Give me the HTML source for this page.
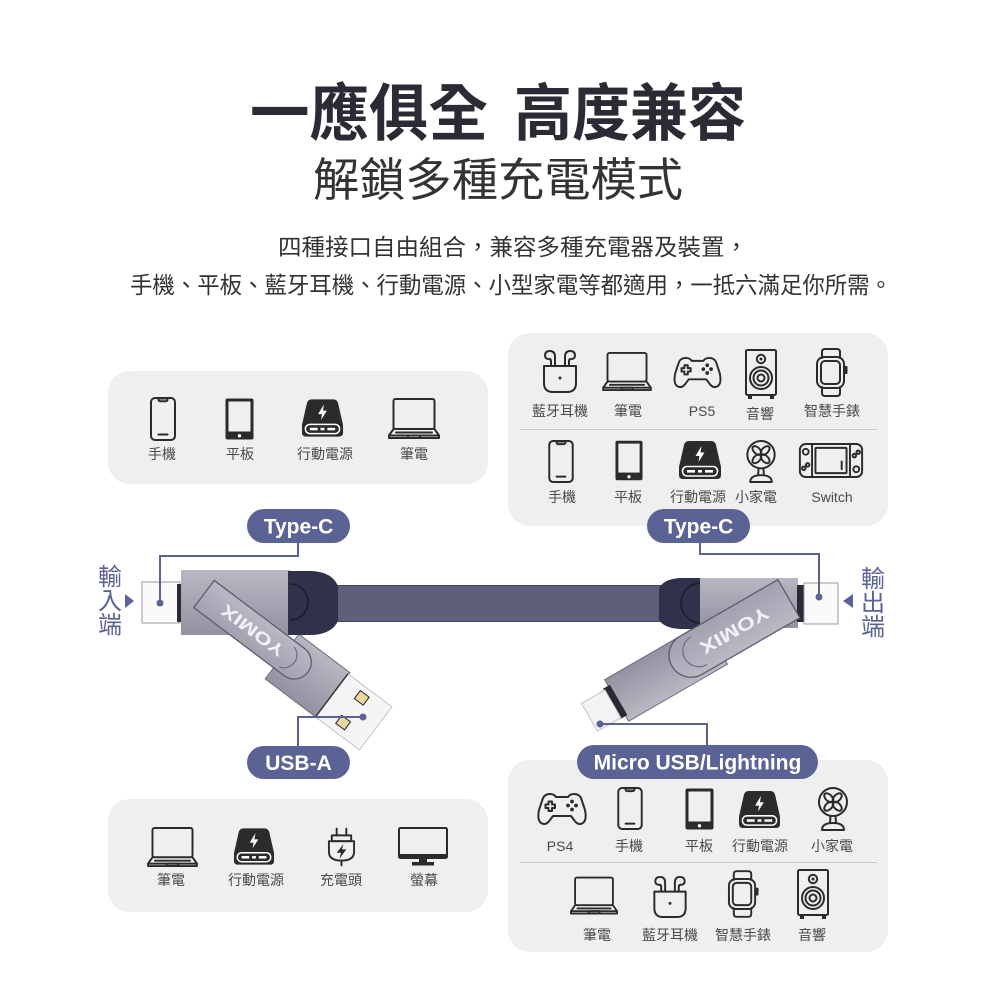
<!DOCTYPE html>
<html><head><meta charset="utf-8">
<style>
html,body{margin:0;padding:0;background:#fff;width:1000px;height:1000px;overflow:hidden;}
svg{display:block;}
.cjk{font-family:"Liberation Sans","Noto Sans CJK TC","Noto Sans CJK SC",sans-serif;}
.lbl{font-family:"Liberation Sans","Noto Sans CJK TC","Noto Sans CJK SC",sans-serif;font-size:14px;fill:#4a4a4a;text-anchor:middle;}
.pill{font-family:"Liberation Sans",sans-serif;font-weight:bold;font-size:21px;fill:#fff;text-anchor:middle;}
.s{fill:none;stroke:#2b2b2b;stroke-width:2;stroke-linejoin:round;stroke-linecap:round;}
.vt{font-family:"Liberation Sans","Noto Sans CJK TC","Noto Sans CJK SC",sans-serif;font-size:24px;fill:#5b6395;text-anchor:middle;}
</style></head><body>
<svg width="1000" height="1000" viewBox="0 0 1000 1000" xmlns="http://www.w3.org/2000/svg">
<defs>
<linearGradient id="metal" x1="0" y1="0" x2="0" y2="1">
<stop offset="0" stop-color="#b8b7c3"/><stop offset="1" stop-color="#9392a1"/></linearGradient>
<linearGradient id="lid" x1="0" y1="0" x2="0" y2="1">
<stop offset="0" stop-color="#b9b8c5"/><stop offset="1" stop-color="#a2a1af"/></linearGradient>
<symbol id="phone" viewBox="0 0 26 44"><rect class="s" x="1" y="1" width="24" height="42" rx="4"/><path class="s" d="M8.5 1.5h9v1.2a1.5 1.5 0 0 1-1.5 1.5h-6a1.5 1.5 0 0 1-1.5-1.5z" stroke-width="1.6"/><line class="s" x1="8.5" y1="37.5" x2="17.5" y2="37.5"/></symbol>
<symbol id="tablet" viewBox="0 0 29 42"><rect x="0.5" y="0.5" width="28" height="41" rx="2" fill="#2b2b2b"/><rect x="3.5" y="3.5" width="22" height="30" fill="#efefef"/><circle cx="14.5" cy="37.8" r="1.7" fill="#fff"/></symbol>
<symbol id="pb" viewBox="0 0 44 40"><path d="M6 5Q7 1 11 1H33Q37 1 38 5L43 27V35Q43 39 39 39H5Q1 39 1 35V27Z" fill="#2b2b2b"/><path d="M23.5 6L17.5 16H21.5L20.5 22L26.5 12.5H22.5Z" fill="#fff"/><rect x="4.5" y="26.5" width="35" height="9.5" rx="4.5" fill="none" stroke="#fff" stroke-width="1.6"/><rect x="9" y="30" width="8" height="2.6" fill="#fff"/><rect x="20" y="30" width="4" height="2.6" fill="#fff"/><rect x="27" y="30" width="8" height="2.6" fill="#fff"/></symbol>
<symbol id="laptop" viewBox="0 0 52 42"><rect class="s" x="5.5" y="1" width="41" height="30" rx="2"/><path class="s" d="M5.5 31L1 37.5V40H51V37.5L46.5 31"/><line class="s" x1="1" y1="37.5" x2="51" y2="37.5"/><line class="s" x1="8" y1="34.5" x2="44" y2="34.5" stroke-width="1.5"/><rect class="s" x="20" y="37.5" width="12" height="2.5" stroke-width="1.5"/></symbol>
<symbol id="buds" viewBox="0 0 36 44"><path class="s" d="M2 17H34V34Q34 43 25 43H11Q2 43 2 34Z"/><circle cx="18" cy="29" r="1.5" fill="#2b2b2b"/><path class="s" d="M13 17V8Q13 2 8 2Q3 2 3 6.5Q3 10 7 10Q9 10 9 12V17"/><path class="s" d="M23 17V8Q23 2 28 2Q33 2 33 6.5Q33 10 29 10Q27 10 27 12V17"/></symbol>
<symbol id="pad" viewBox="0 0 50 34"><path class="s" d="M13 2Q8 2 6 6L2 18Q0 28 4 31Q9 34 13 28L16 24H34L37 28Q41 34 46 31Q50 28 48 18L44 6Q42 2 37 2Q33 2 31 5H19Q17 2 13 2Z"/><path class="s" d="M11.5 9.5h3.5v3h3v3.5h-3v3h-3.5v-3h-3v-3.5h3z" stroke-width="1.8"/><circle cx="35" cy="9.5" r="1.9" fill="#2b2b2b"/><circle cx="31" cy="13.5" r="1.9" fill="#2b2b2b"/><circle cx="39" cy="13.5" r="1.9" fill="#2b2b2b"/><circle cx="35" cy="17.5" r="1.9" fill="#2b2b2b"/></symbol>
<symbol id="spk" viewBox="0 0 32 50"><rect class="s" x="1" y="1" width="30" height="45" rx="1.5"/><circle class="s" cx="16" cy="10" r="4.2" stroke-width="1.6"/><circle cx="16" cy="10" r="1.5" fill="#2b2b2b"/><circle class="s" cx="16" cy="29" r="11" stroke-width="1.8"/><circle class="s" cx="16" cy="29" r="7.5" stroke-width="1.6"/><circle class="s" cx="16" cy="29" r="3.5" stroke-width="1.6"/><rect x="3" y="46" width="4" height="4" fill="#2b2b2b"/><rect x="25" y="46" width="4" height="4" fill="#2b2b2b"/></symbol>
<symbol id="watch" viewBox="0 0 33 49"><path class="s" d="M7 10V4Q7 1 10 1H22Q25 1 25 4V10"/><path class="s" d="M7 39V45Q7 48 10 48H22Q25 48 25 45V39"/><rect class="s" x="2" y="9" width="27" height="31" rx="7" fill="#efefef"/><rect class="s" x="6" y="13" width="19" height="23" rx="4" stroke-width="1.6"/><rect x="29" y="18" width="3.5" height="8" rx="1" fill="#2b2b2b"/></symbol>
<symbol id="fan" viewBox="0 0 32 44"><circle class="s" cx="16" cy="15" r="14"/><g transform="translate(16 15)" class="s" stroke-width="1.6"><ellipse cx="6" cy="0" rx="5.5" ry="3.2" transform="rotate(45)"/><ellipse cx="6" cy="0" rx="5.5" ry="3.2" transform="rotate(135)"/><ellipse cx="6" cy="0" rx="5.5" ry="3.2" transform="rotate(225)"/><ellipse cx="6" cy="0" rx="5.5" ry="3.2" transform="rotate(315)"/></g><path class="s" d="M13.5 29L13 36M18.5 29L19 36"/><path class="s" d="M5 43Q5 36 16 36Q27 36 27 43Z"/></symbol>
<symbol id="sw" viewBox="0 0 66 36"><rect class="s" x="1" y="1" width="64" height="34" rx="6"/><line class="s" x1="13.5" y1="1" x2="13.5" y2="35"/><line class="s" x1="52.5" y1="1" x2="52.5" y2="35"/><rect class="s" x="17" y="5" width="32" height="26" rx="1"/><line class="s" x1="44" y1="19" x2="44" y2="27"/><circle class="s" cx="7" cy="9" r="3" stroke-width="1.6"/><circle class="s" cx="5" cy="26" r="1.8" stroke-width="1.4"/><circle class="s" cx="9" cy="22.5" r="1.8" stroke-width="1.4"/><circle class="s" cx="57" cy="13" r="1.8" stroke-width="1.4"/><circle class="s" cx="61" cy="9.5" r="1.8" stroke-width="1.4"/><circle class="s" cx="59" cy="27" r="3" stroke-width="1.6"/></symbol>
<symbol id="chg" viewBox="0 0 30 40"><path class="s" d="M10 1V8M20 1V8"/><rect class="s" x="5" y="8" width="20" height="6"/><path class="s" d="M2 14H28V25Q28 34 15 34Q2 34 2 25Z"/><path d="M17 17L10 26H14.5L13 32L20 22.5H15.5Z" fill="#2b2b2b"/><path class="s" d="M15 34V39"/></symbol>
<symbol id="mon" viewBox="0 0 50 40"><rect class="s" x="1" y="1" width="48" height="30" rx="1.5"/><rect x="1" y="27" width="48" height="4" fill="#2b2b2b"/><rect x="21" y="31" width="8" height="4" fill="#2b2b2b"/><rect x="14" y="35" width="22" height="3.5" fill="#2b2b2b"/></symbol>
</defs>

<!-- Title -->
<text class="cjk" x="250" y="135" font-size="62" font-weight="700" fill="#2a2b35" textLength="238" lengthAdjust="spacingAndGlyphs">一應俱全</text>
<text class="cjk" x="514" y="135" font-size="62" font-weight="700" fill="#2a2b35" textLength="232" lengthAdjust="spacingAndGlyphs">高度兼容</text>
<text class="cjk" x="313" y="196" font-size="46" fill="#333" textLength="370" lengthAdjust="spacingAndGlyphs">解鎖多種充電模式</text>
<text class="cjk" x="278" y="255" font-size="23" fill="#333" textLength="470" lengthAdjust="spacingAndGlyphs">四種接口自由組合，兼容多種充電器及裝置，</text>
<text class="cjk" x="130" y="293" font-size="23" fill="#333" textLength="762" lengthAdjust="spacingAndGlyphs">手機、平板、藍牙耳機、行動電源、小型家電等都適用，一抵六滿足你所需。</text>

<!-- Panels -->
<rect x="108" y="371" width="380" height="113" rx="22" fill="#efefef"/>
<rect x="508" y="333" width="380" height="193" rx="22" fill="#efefef"/>
<rect x="108" y="799" width="380" height="113" rx="22" fill="#efefef"/>
<rect x="508" y="760" width="380" height="192" rx="22" fill="#efefef"/>
<line x1="520" y1="429.5" x2="877" y2="429.5" stroke="#c8c8c8" stroke-width="1"/>
<line x1="520" y1="862.5" x2="877" y2="862.5" stroke="#c8c8c8" stroke-width="1"/>

<!-- Top-left icons -->
<use href="#phone" x="150" y="397" width="26" height="44"/>
<use href="#tablet" x="225" y="398" width="29" height="42"/>
<use href="#pb" x="301" y="398" width="43" height="40"/>
<use href="#laptop" x="388" y="398" width="52" height="42"/>
<text class="lbl" x="162" y="459">手機</text>
<text class="lbl" x="240" y="459">平板</text>
<text class="lbl" x="325" y="459">行動電源</text>
<text class="lbl" x="414" y="459">筆電</text>

<!-- Top-right icons -->
<use href="#buds" x="542" y="349" width="36" height="44"/>
<use href="#laptop" x="602" y="352" width="50" height="40"/>
<use href="#pad" x="673" y="356" width="49" height="33"/>
<use href="#spk" x="745" y="349" width="32" height="50"/>
<use href="#watch" x="815" y="348" width="33" height="49"/>
<text class="lbl" x="560" y="416">藍牙耳機</text>
<text class="lbl" x="628" y="416">筆電</text>
<text class="lbl" x="702" y="416">PS5</text>
<text class="lbl" x="760" y="419">音響</text>
<text class="lbl" x="832" y="416">智慧手錶</text>
<use href="#phone" x="548" y="440" width="26" height="43"/>
<use href="#tablet" x="615" y="440" width="28" height="41"/>
<use href="#pb" x="678" y="440" width="44" height="40"/>
<use href="#fan" x="745" y="440" width="32" height="43"/>
<use href="#sw" x="798" y="443" width="66" height="35"/>
<text class="lbl" x="562" y="502">手機</text>
<text class="lbl" x="628" y="502">平板</text>
<text class="lbl" x="698" y="502">行動電源</text>
<text class="lbl" x="756" y="502">小家電</text>
<text class="lbl" x="832" y="502">Switch</text>

<!-- Bottom-left icons -->
<use href="#laptop" x="147" y="827" width="51" height="41"/>
<use href="#pb" x="233" y="827" width="42" height="39"/>
<use href="#chg" x="327" y="827" width="29" height="40"/>
<use href="#mon" x="398" y="827" width="50" height="40"/>
<text class="lbl" x="171" y="885">筆電</text>
<text class="lbl" x="256" y="885">行動電源</text>
<text class="lbl" x="341" y="885">充電頭</text>
<text class="lbl" x="424" y="885">螢幕</text>

<!-- Bottom-right icons -->
<use href="#pad" x="537" y="792" width="50" height="34"/>
<use href="#phone" x="617" y="787" width="26" height="43"/>
<use href="#tablet" x="685" y="788" width="29" height="42"/>
<use href="#pb" x="737" y="790" width="45" height="39"/>
<use href="#fan" x="817" y="787" width="32" height="44"/>
<text class="lbl" x="560" y="851">PS4</text>
<text class="lbl" x="629" y="851">手機</text>
<text class="lbl" x="699" y="851">平板</text>
<text class="lbl" x="760" y="851">行動電源</text>
<text class="lbl" x="832" y="851">小家電</text>
<use href="#laptop" x="570" y="875" width="48" height="42"/>
<use href="#buds" x="652" y="875" width="36" height="43"/>
<use href="#watch" x="727" y="870" width="32" height="48"/>
<use href="#spk" x="797" y="869" width="32" height="50"/>
<text class="lbl" x="597" y="940">筆電</text>
<text class="lbl" x="670" y="940">藍牙耳機</text>
<text class="lbl" x="743" y="940">智慧手錶</text>
<text class="lbl" x="812" y="940">音響</text>

<!-- Cable -->
<rect x="334" y="585" width="328" height="37" fill="#5e5f78"/>
<line x1="334" y1="585.5" x2="662" y2="585.5" stroke="#46475e" stroke-width="1"/>
<line x1="334" y1="621.5" x2="662" y2="621.5" stroke="#46475e" stroke-width="1"/>

<!-- left swivel (under body) -->
<g transform="translate(204 594) rotate(37)">
  <rect x="100" y="-25" width="64" height="56" fill="url(#metal)" stroke="#6d6c7a" stroke-width="1"/>
  <rect x="163" y="-23" width="55" height="54" fill="#f5f5f7" stroke="#c4c4ca" stroke-width="1"/>
  <line x1="163" y1="-23" x2="163" y2="31" stroke="#333" stroke-width="1.5"/>
  <rect x="183" y="-17" width="11" height="10" fill="#ecd89c" stroke="#222" stroke-width="1"/>
  <rect x="183" y="14" width="11" height="10" fill="#ecd89c" stroke="#222" stroke-width="1"/>
</g>
<!-- right swivel (under body) -->
<g transform="translate(800 590) rotate(150)">
  <rect x="100" y="-28" width="114" height="48" fill="url(#metal)" stroke="#6d6c7a" stroke-width="1"/>
  <rect x="212" y="-22" width="8" height="35" fill="#2a2a33"/>
  <rect x="219" y="-21" width="27" height="32" fill="#f3f3f5" stroke="#c4c4ca" stroke-width="1"/>
</g>

<!-- Left connector body -->
<rect x="142" y="582" width="38" height="41" fill="#fafafa" stroke="#9a9aa2" stroke-width="1"/>
<rect x="177" y="584" width="6" height="38" fill="#2a2a35"/>
<rect x="181" y="570" width="109" height="65" fill="url(#metal)"/>
<path d="M288 571H312Q332 572 338 586V621Q332 634 312 635H288Z" fill="#30314a"/>
<path d="M290 584A18 18 0 0 1 290 620" fill="none" stroke="#1b1c2b" stroke-width="1.6"/>

<!-- Right connector body -->
<path d="M702 578H680Q664 579 659 588V620Q664 628 680 629H702Z" fill="#30314a"/>
<path d="M701 583A20 20 0 0 0 701 623" fill="none" stroke="#1b1c2b" stroke-width="1.6"/>
<rect x="700" y="578" width="98" height="50" fill="url(#metal)"/>
<rect x="797" y="585" width="7" height="37" fill="#2a2a35"/>
<rect x="804" y="583" width="34" height="41" fill="#fafafa" stroke="#9a9aa2" stroke-width="1"/>

<!-- Lids -->
<g transform="translate(204 594) rotate(37)">
  <path d="M0 -17H113A17 17 0 0 1 113 17H0Z" fill="url(#lid)" stroke="#5e5d6c" stroke-width="1.3"/>
  <path d="M104 -12A13 13 0 0 1 104 13" fill="none" stroke="#6e6d7c" stroke-width="1.2"/>
  <text x="61" y="6" transform="rotate(180 61 0)" font-family="Liberation Sans, sans-serif" font-weight="bold" font-size="17" fill="#f2f2f6" text-anchor="middle" textLength="74" lengthAdjust="spacingAndGlyphs">YOMIX</text>
</g>
<g transform="translate(800 590) rotate(150)">
  <path d="M14 -24H127A22 22 0 0 1 127 20H14Z" fill="url(#lid)" stroke="#5e5d6c" stroke-width="1.3"/>
  <path d="M118 -18A16 16 0 0 1 118 14" fill="none" stroke="#6e6d7c" stroke-width="1.2"/>
  <text x="77" y="4" font-family="Liberation Sans, sans-serif" font-weight="bold" font-size="18" fill="#f2f2f6" text-anchor="middle" textLength="76" lengthAdjust="spacingAndGlyphs">YOMIX</text>
</g>

<!-- Connector lines -->
<g fill="none" stroke="#5b6395" stroke-width="2">
  <path d="M298 543V556H160V602"/>
  <path d="M700 543V554H819V597"/>
  <path d="M298 746V717H363"/>
  <path d="M707 745V724H600"/>
</g>
<g fill="#5b6395">
  <circle cx="160" cy="603" r="3.5"/>
  <circle cx="819" cy="597" r="3.5"/>
  <circle cx="363" cy="717" r="3.5"/>
  <circle cx="600" cy="724" r="3.5"/>
</g>

<!-- Pills -->
<rect x="247" y="509" width="103" height="34" rx="17" fill="#5b6395"/>
<text class="pill" x="298.5" y="533.5">Type-C</text>
<rect x="647" y="509" width="103" height="34" rx="17" fill="#5b6395"/>
<text class="pill" x="698.5" y="533.5">Type-C</text>
<rect x="247" y="746" width="103" height="33" rx="16.5" fill="#5b6395"/>
<text class="pill" x="298.5" y="770">USB-A</text>
<rect x="577" y="745" width="241" height="34" rx="17" fill="#5b6395"/>
<text class="pill" x="697.5" y="769.5">Micro USB/Lightning</text>

<!-- Side labels -->
<text class="vt" x="110" y="585">輸</text>
<text class="vt" x="110" y="609">入</text>
<text class="vt" x="110" y="633">端</text>
<polygon points="125,594 134,601 125,608" fill="#5b6395"/>
<text class="vt" x="873" y="587">輸</text>
<text class="vt" x="873" y="611">出</text>
<text class="vt" x="873" y="635">端</text>
<polygon points="853,594 843,601 853,608" fill="#5b6395"/>
</svg>
</body></html>
